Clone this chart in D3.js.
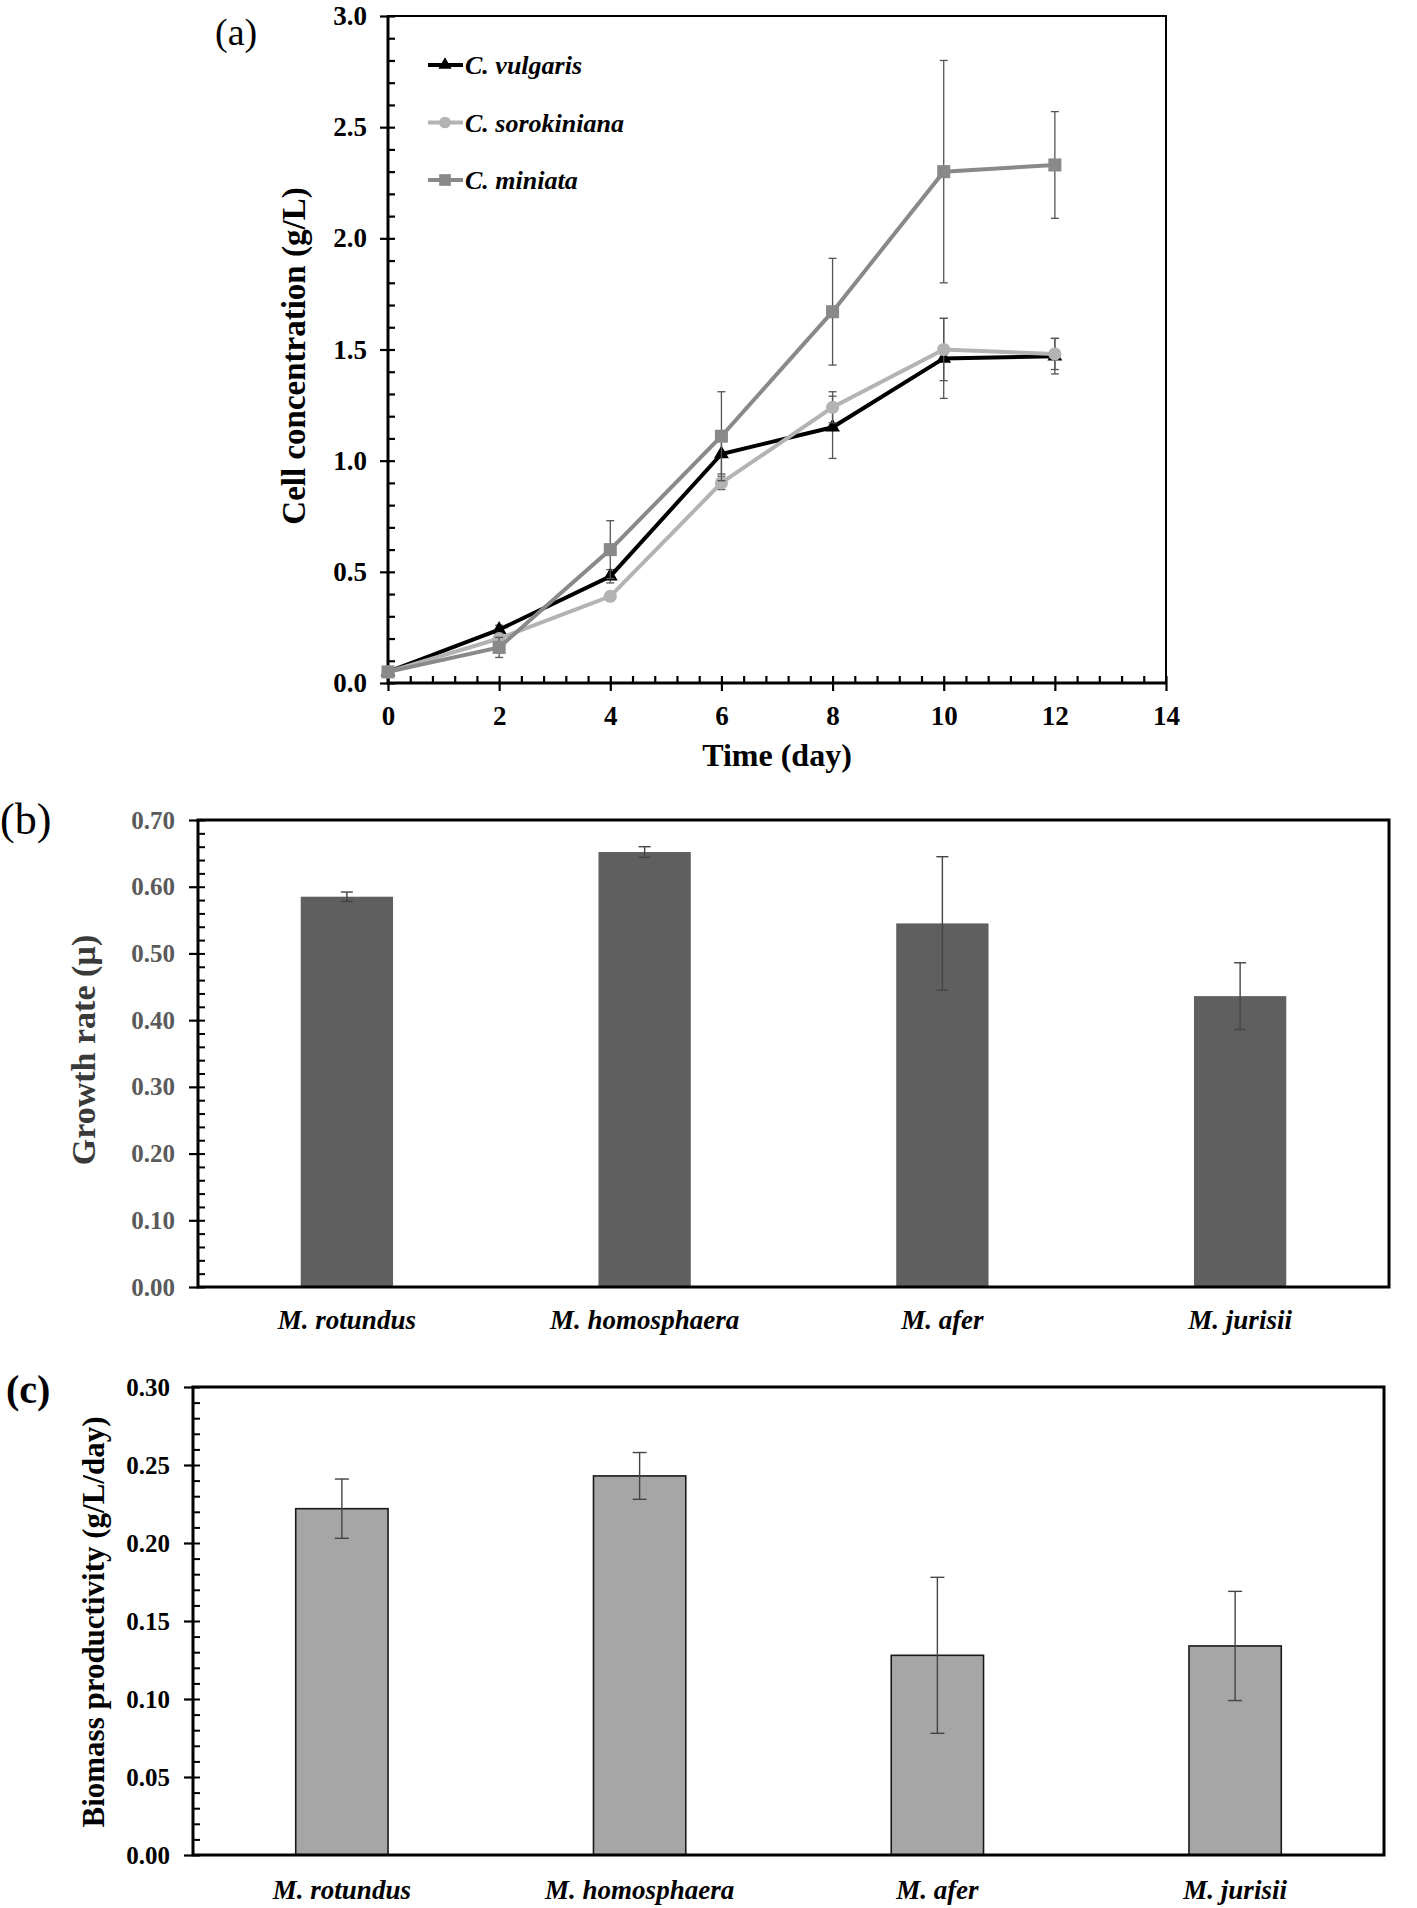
<!DOCTYPE html>
<html lang="en">
<head>
<meta charset="UTF-8">
<title>Growth of algae</title>
<script src="https://cdn.jsdelivr.net/npm/d3@7"></script>
<style>
    * { margin: 0; padding: 0; }
    body { background: white; width: 1417px; height: 1908px; overflow: hidden; }
    text { font-family: "Liberation Serif", "Times New Roman", serif; }
</style>
</head>
<body>
<script>
// panel (a) data: cell concentration over time
const days = [0, 2, 4, 6, 8, 10, 12];
const vulgaris = [0.05, 0.24, 0.48, 1.03, 1.15, 1.46, 1.47];
const vulgarisErr = [0.01, 0.02, 0.03, 0.09, 0.14, 0.18, 0.08];
const sorokiniana = [0.05, 0.20, 0.39, 0.90, 1.24, 1.50, 1.48];
const sorokinianaErr = [0.01, 0.02, 0.02, 0.03, 0.07, 0.14, 0.07];
const miniata = [0.05, 0.16, 0.60, 1.11, 1.67, 2.30, 2.33];
const miniataErr = [0.01, 0.045, 0.13, 0.20, 0.24, 0.50, 0.24];
const seriesNames = ["C. vulgaris", "C. sorokiniana", "C. miniata"];
const xTicksA = [0, 2, 4, 6, 8, 10, 12, 14];
const yTicksA = [0, 0.5, 1.0, 1.5, 2.0, 2.5, 3.0];

// panels (b) and (c)
const species = ["M. rotundus", "M. homosphaera", "M. afer", "M. jurisii"];
const growthRate = [0.585, 0.652, 0.545, 0.436];
const growthErr = [0.007, 0.008, 0.10, 0.05];
const productivity = [0.222, 0.243, 0.128, 0.134];
const productivityErr = [0.019, 0.015, 0.05, 0.035];
const yTicksB = [0, 0.1, 0.2, 0.3, 0.4, 0.5, 0.6, 0.7];
const yTicksC = [0, 0.05, 0.10, 0.15, 0.20, 0.25, 0.30];

const svg = d3.select("body").append("svg")
    .attr("width", 1417)
    .attr("height", 1908);

// ---------- panel (a) ----------
const xA = d3.scaleLinear().domain([0, 14]).range([388, 1166]);
const yA = d3.scaleLinear().domain([0, 3]).range([683, 16]);

svg.append("text").attr("x", 215).attr("y", 45)
    .style("font-size", "38px").text("(a)");

// minor ticks pointing inside
svg.append("g").attr("transform", "translate(388,0)")
    .call(d3.axisRight(yA).tickValues(d3.range(0, 3.001, 0.1)).tickSize(7).tickFormat(""))
    .call(g => g.select(".domain").remove());
svg.append("g").attr("transform", "translate(0,683)")
    .call(d3.axisTop(xA).tickValues(d3.range(0, 14.01, 0.4)).tickSize(7).tickFormat(""))
    .call(g => g.select(".domain").remove());

const yAxisA = svg.append("g").attr("transform", "translate(388,0)")
    .call(d3.axisLeft(yA).tickValues(yTicksA).tickSize(8).tickPadding(13).tickFormat(d3.format(".1f")));
const xAxisA = svg.append("g").attr("transform", "translate(0,683)")
    .call(d3.axisBottom(xA).tickValues(xTicksA).tickSize(8).tickPadding(15));
[yAxisA, xAxisA].forEach(g => {
    g.select(".domain").remove();
    g.selectAll("text").style("font-size", "27px").style("font-weight", "bold")
        .style("font-family", "Liberation Serif").attr("fill", "#000");
});
svg.selectAll(".tick line").attr("stroke", "#000").attr("stroke-width", 2.2);

// frame
svg.append("rect").attr("x", 388).attr("y", 16).attr("width", 1166 - 388).attr("height", 683 - 16)
    .attr("fill", "none").attr("stroke", "#000").attr("stroke-width", 2);
svg.append("path").attr("d", `M388,16V683H1166`).attr("fill", "none")
    .attr("stroke", "#000").attr("stroke-width", 3);

svg.append("text")
    .attr("transform", "translate(305,356) rotate(-90)")
    .attr("text-anchor", "middle")
    .style("font-size", "33px").style("font-weight", "bold")
    .text("Cell concentration (g/L)");
svg.append("text").attr("x", 777).attr("y", 766).attr("text-anchor", "middle")
    .style("font-size", "32px").style("font-weight", "bold")
    .text("Time (day)");

const seriesA = [
    { name: seriesNames[0], vals: vulgaris, err: vulgarisErr, color: "#000000", symbol: d3.symbolTriangle, size: 95 },
    { name: seriesNames[1], vals: sorokiniana, err: sorokinianaErr, color: "#b3b3b3", symbol: d3.symbolCircle, size: 135 },
    { name: seriesNames[2], vals: miniata, err: miniataErr, color: "#898989", symbol: d3.symbolSquare, size: 170 }
];

const line = d3.line().x(d => xA(d.day)).y(d => yA(d.v));

seriesA.forEach(s => {
    const pts = days.map((day, i) => ({ day, v: s.vals[i], e: s.err[i] }));
    const g = svg.append("g");
    // error bars
    const eb = g.selectAll(".eb").data(pts).enter().append("g").attr("stroke", "#555").attr("stroke-width", 1.3);
    eb.append("line").attr("x1", d => xA(d.day)).attr("x2", d => xA(d.day))
        .attr("y1", d => yA(d.v - d.e)).attr("y2", d => yA(d.v + d.e));
    eb.append("line").attr("x1", d => xA(d.day) - 4).attr("x2", d => xA(d.day) + 4)
        .attr("y1", d => yA(d.v + d.e)).attr("y2", d => yA(d.v + d.e));
    eb.append("line").attr("x1", d => xA(d.day) - 4).attr("x2", d => xA(d.day) + 4)
        .attr("y1", d => yA(d.v - d.e)).attr("y2", d => yA(d.v - d.e));
    g.append("path").datum(pts).attr("d", line).attr("fill", "none")
        .attr("stroke", s.color).attr("stroke-width", 4);
    g.selectAll(".m").data(pts).enter().append("path")
        .attr("transform", d => `translate(${xA(d.day)},${yA(d.v)})`)
        .attr("d", d3.symbol(s.symbol, s.size)).attr("fill", s.color);
});

// legend
seriesA.forEach((s, i) => {
    const ly = 65 + i * 57.5;
    svg.append("line").attr("x1", 428).attr("x2", 463).attr("y1", ly).attr("y2", ly)
        .attr("stroke", s.color).attr("stroke-width", 4);
    svg.append("path").attr("transform", `translate(445,${ly})`)
        .attr("d", d3.symbol(s.symbol, s.size * 0.8)).attr("fill", s.color);
    svg.append("text").attr("x", 465).attr("y", ly + 9)
        .style("font-size", "26px").style("font-weight", "bold").style("font-style", "italic")
        .text(s.name);
});

// ---------- bar panels ----------
function barPanel(opts) {
    const x = d3.scaleBand().domain(species).range([opts.left, opts.right])
        .paddingInner(0.69).paddingOuter(0.345);
    const y = d3.scaleLinear().domain([0, opts.max]).range([opts.bottom, opts.top]);

    svg.append("text").attr("x", opts.labelX).attr("y", opts.labelY)
        .style("font-size", opts.labelSize).style("font-weight", opts.labelWeight).text(opts.label);

    svg.append("g").attr("transform", `translate(${opts.left},0)`)
        .call(d3.axisRight(y).tickValues(d3.range(0, opts.max + 1e-9, opts.minor)).tickSize(7).tickFormat(""))
        .call(g => g.select(".domain").remove())
        .selectAll("line").attr("stroke", "#000").attr("stroke-width", 2);

    const ya = svg.append("g").attr("transform", `translate(${opts.left},0)`)
        .call(d3.axisLeft(y).tickValues(opts.ticks).tickSize(9).tickPadding(14).tickFormat(d3.format(opts.fmt)));
    ya.select(".domain").remove();
    ya.selectAll("line").attr("stroke", "#000").attr("stroke-width", 2.2);
    ya.selectAll("text").style("font-size", "25px").style("font-weight", "bold")
        .style("font-family", "Liberation Serif").attr("fill", opts.tickColor);

    svg.selectAll(null).data(species).enter().append("rect")
        .attr("x", d => x(d)).attr("width", x.bandwidth())
        .attr("y", (d, i) => y(opts.vals[i]))
        .attr("height", (d, i) => opts.bottom - y(opts.vals[i]))
        .attr("fill", opts.fill)
        .attr("stroke", opts.stroke).attr("stroke-width", opts.stroke === "none" ? 0 : 1.6);

    const eb = svg.selectAll(null).data(species).enter().append("g")
        .attr("stroke", "#444").attr("stroke-width", 1.4);
    const cx = d => x(d) + x.bandwidth() / 2;
    eb.append("line").attr("x1", cx).attr("x2", cx)
        .attr("y1", (d, i) => y(opts.vals[i] - opts.errs[i])).attr("y2", (d, i) => y(opts.vals[i] + opts.errs[i]));
    [1, -1].forEach(sign => {
        eb.append("line").attr("x1", d => cx(d) - opts.cap).attr("x2", d => cx(d) + opts.cap)
            .attr("y1", (d, i) => y(opts.vals[i] + sign * opts.errs[i]))
            .attr("y2", (d, i) => y(opts.vals[i] + sign * opts.errs[i]));
    });

    svg.append("rect").attr("x", opts.left).attr("y", opts.top)
        .attr("width", opts.right - opts.left).attr("height", opts.bottom - opts.top)
        .attr("fill", "none").attr("stroke", "#000").attr("stroke-width", 3);

    svg.selectAll(null).data(species).enter().append("text")
        .attr("x", cx).attr("y", opts.catY).attr("text-anchor", "middle")
        .style("font-size", "27px").style("font-weight", "bold").style("font-style", "italic")
        .text(d => d);

    svg.append("text")
        .attr("transform", `translate(${opts.titleX},${opts.titleY}) rotate(-90)`)
        .attr("text-anchor", "middle")
        .style("font-size", opts.titleSize).style("font-weight", "bold")
        .attr("fill", opts.titleColor)
        .text(opts.title);
}

barPanel({
    left: 198, right: 1389, top: 820, bottom: 1287, max: 0.7, minor: 0.02,
    ticks: yTicksB, fmt: ".2f", vals: growthRate, errs: growthErr,
    fill: "#5f5f5f", stroke: "none", cap: 6, tickColor: "#5a5a5a",
    label: "(b)", labelX: 0, labelY: 834, labelSize: "44px", labelWeight: "normal",
    catY: 1329, title: "Growth rate (µ)", titleX: 95, titleY: 1050, titleSize: "34px", titleColor: "#3a3a3a"
});

barPanel({
    left: 193, right: 1384, top: 1387, bottom: 1855, max: 0.3, minor: 0.01,
    ticks: yTicksC, fmt: ".2f", vals: productivity, errs: productivityErr,
    fill: "#a6a6a6", stroke: "#1a1a1a", cap: 7, tickColor: "#000",
    label: "(c)", labelX: 6, labelY: 1403, labelSize: "40px", labelWeight: "bold",
    catY: 1899, title: "Biomass productivity (g/L/day)", titleX: 104, titleY: 1622, titleSize: "31px", titleColor: "#000"
});
</script>
</body>
</html>
